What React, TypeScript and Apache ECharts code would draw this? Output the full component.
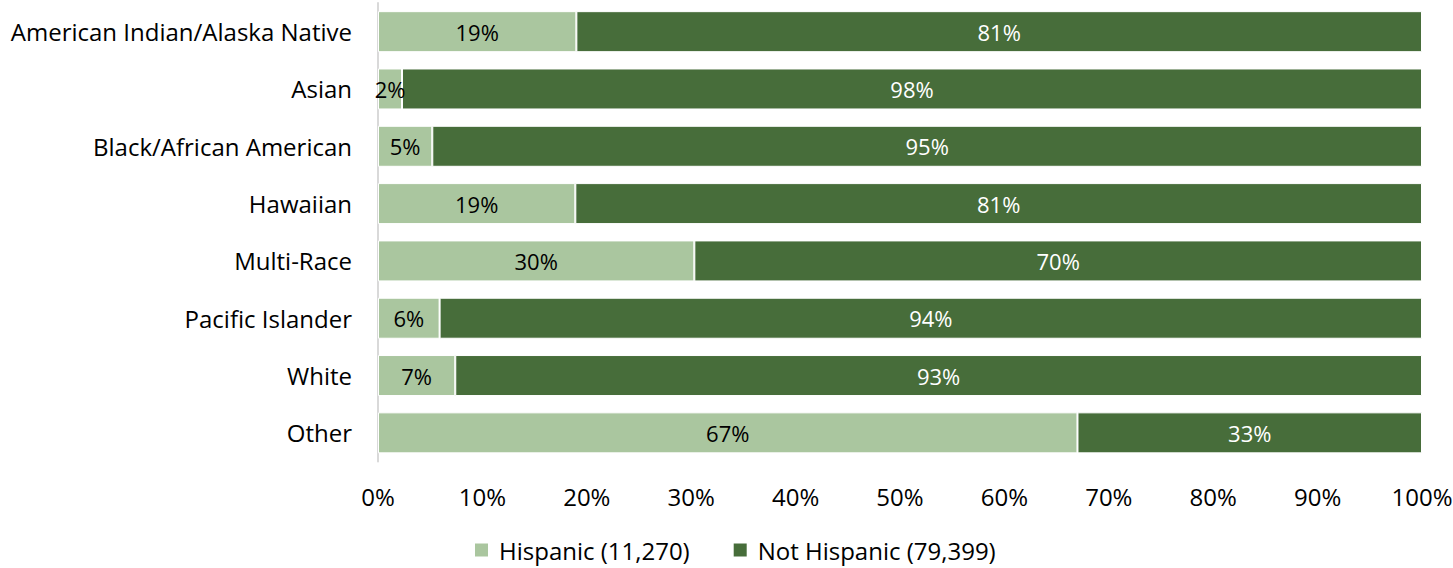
import React, { useEffect, useRef } from "react";
import * as echarts from "echarts";

const categories = [
  "American Indian/Alaska Native",
  "Asian",
  "Black/African American",
  "Hawaiian",
  "Multi-Race",
  "Pacific Islander",
  "White",
  "Other",
];
const hispanic = [19.0, 2.3, 5.2, 18.9, 30.3, 5.9, 7.4, 67.0];
const notHispanic = [81.0, 97.7, 94.8, 81.1, 69.7, 94.1, 92.6, 33.0];
const seriesNames = ["Hispanic (11,270)", "Not Hispanic (79,399)"];
const colors = ["#AAC69F", "#476D3A"];

const FONT = "'Open Sans', sans-serif";

export default function App() {
  const ref = useRef<HTMLDivElement>(null);
  useEffect(() => {
    if (!ref.current) return;
    const chart = echarts.init(ref.current, null, { renderer: "svg" });
    const fmt = (p: any) => Math.round(p.value) + "%";
    chart.setOption({
      animation: false,
      textStyle: { fontFamily: FONT },
      grid: {
        left: 378,
        right: 31,
        top: 3,
        height: 458.5,
        containLabel: false,
        outerBoundsMode: "none",
      },
      legend: {
        data: seriesNames,
        top: 537,
        left: 473,
        padding: 0,
        itemWidth: 15,
        itemHeight: 15,
        itemGap: 42,
        icon: "rect",
        textStyle: {
          fontSize: 24,
          lineHeight: 26,
          color: "#000",
          fontFamily: FONT,
          padding: [0, 0, 0, 5],
        },
      },
      xAxis: {
        type: "value",
        min: 0,
        max: 100,
        interval: 10,
        axisLine: { show: false },
        axisTick: { show: false },
        splitLine: { show: false },
        axisLabel: {
          formatter: "{value}%",
          fontSize: 24,
          color: "#000",
          margin: 23,
          fontFamily: FONT,
        },
      },
      yAxis: {
        type: "category",
        data: categories,
        inverse: true,
        axisLine: { show: true, lineStyle: { color: "#D9D9D9", width: 2 } },
        axisTick: { show: false },
        axisLabel: { fontSize: 24, color: "#000", margin: 26, fontFamily: FONT },
      },
      series: [
        {
          name: seriesNames[0],
          type: "bar",
          stack: "total",
          data: hispanic,
          barWidth: 41,
          itemStyle: { color: colors[0], borderColor: "#fff", borderWidth: 1 },
          label: {
            show: true,
            position: "inside",
            formatter: fmt,
            color: "#000",
            fontSize: 22,
            fontFamily: FONT,
          },
        },
        {
          name: seriesNames[1],
          type: "bar",
          stack: "total",
          data: notHispanic,
          barWidth: 41,
          itemStyle: { color: colors[1], borderColor: "#fff", borderWidth: 1 },
          label: {
            show: true,
            position: "inside",
            formatter: fmt,
            color: "#fff",
            fontSize: 22,
            fontFamily: FONT,
          },
        },
      ],
    });
    return () => chart.dispose();
  }, []);
  return (
    <div
      ref={ref}
      style={{ position: "absolute", left: 0, top: 0, width: 1453, height: 568 }}
    />
  );
}
